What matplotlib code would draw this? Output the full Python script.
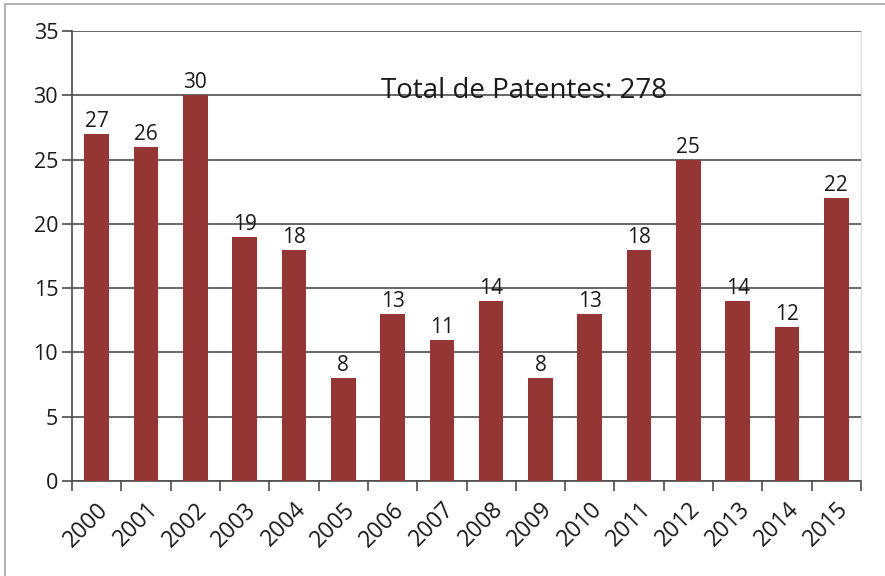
import matplotlib
matplotlib.use("Agg")
import matplotlib.pyplot as plt
from matplotlib.patches import Rectangle

plt.rcParams['font.family'] = ['Open Sans', 'DejaVu Sans']

# Patent counts per year
years = ['2000', '2001', '2002', '2003', '2004', '2005', '2006', '2007',
         '2008', '2009', '2010', '2011', '2012', '2013', '2014', '2015']
patents = [27, 26, 30, 19, 18, 8, 13, 11, 14, 8, 13, 18, 25, 14, 12, 22]

bar_color = '#943634'
grid_color = '#4d4d4d'
text_color = '#1a1a1a'

fig = plt.figure(figsize=(8.85, 5.76), dpi=100)
ax = fig.add_axes([72 / 885, 1 - 481 / 576, (861 - 72) / 885, (481 - 31) / 576])

x = list(range(len(years)))
bars = ax.bar(x, patents, width=0.5, color=bar_color, zorder=3)

# value labels above each bar
for xi, v in zip(x, patents):
    ax.text(xi, v + 0.15, str(v), ha='center', va='bottom', fontsize=15,
            color=text_color, zorder=4)

ax.text(5.76, 29.8, f'Total de Patentes: {sum(patents)}', ha='left',
        va='baseline', fontsize=20, color=text_color, zorder=4)

ax.set_xlim(-0.5, len(years) - 0.5)
ax.set_ylim(0, 35)
ax.set_yticks(range(0, 36, 5))
ax.yaxis.grid(True, color=grid_color, linewidth=1.2, zorder=0)

# ticks sit between the categories, labels under each bar
ax.set_xticks([i - 0.5 for i in range(len(years) + 1)])
ax.set_xticklabels([])
ax.set_xticks(x, minor=True)
ax.set_xticklabels(years, minor=True, rotation=45, ha='right',
                   rotation_mode='anchor', fontsize=16.5, color=text_color)
ax.tick_params(axis='x', which='minor', length=0, pad=12)
ax.tick_params(axis='x', which='major', length=7, width=1.2, color=grid_color)
ax.tick_params(axis='y', length=7, width=1.2, color=grid_color,
               labelsize=15.5, labelcolor=text_color, pad=3)

for side in ['left', 'bottom']:
    ax.spines[side].set_color(grid_color)
    ax.spines[side].set_linewidth(1.2)
ax.spines['top'].set_visible(False)
ax.spines['right'].set_color('#d9d9d9')

# outer chart frame
fig.patches.append(Rectangle((5 / 885, -0.05), 1.1, 1 - 4 / 576 + 0.05,
                             transform=fig.transFigure, fill=False,
                             edgecolor='#a6a6a6', linewidth=1.2))

fig.savefig('out.png', dpi=100)
